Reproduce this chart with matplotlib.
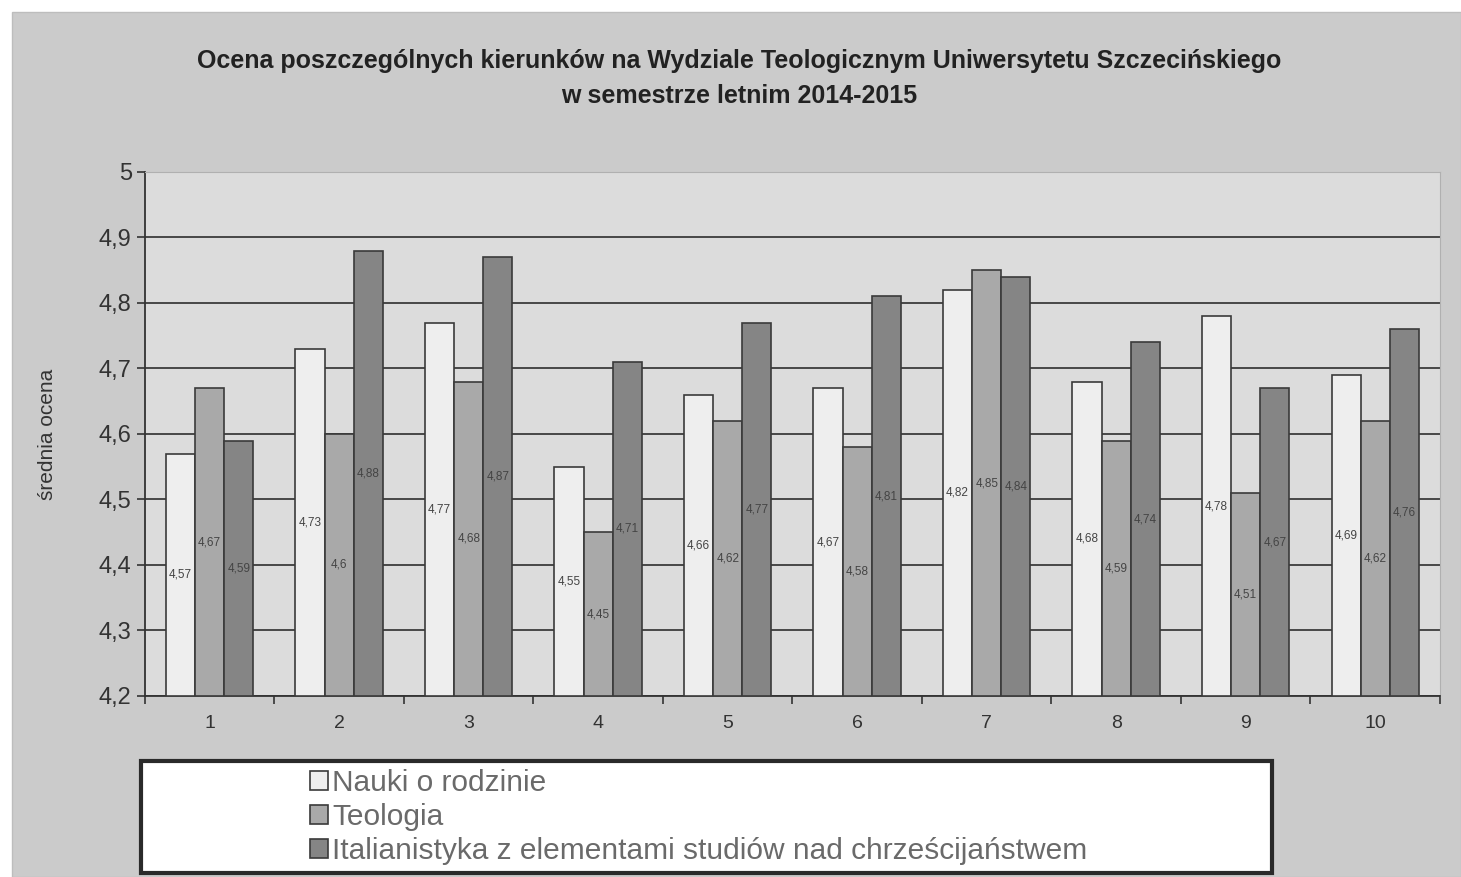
import matplotlib.pyplot as plt
import numpy
from matplotlib.patches import Rectangle

plt.rcParams['font.family'] = ['Liberation Sans', 'DejaVu Sans']

categories = ['1', '2', '3', '4', '5', '6', '7', '8', '9', '10']
nauki = [4.57, 4.73, 4.77, 4.55, 4.66, 4.67, 4.82, 4.68, 4.78, 4.69]
teologia = [4.67, 4.6, 4.68, 4.45, 4.62, 4.58, 4.85, 4.59, 4.51, 4.62]
italianistyka = [4.59, 4.88, 4.87, 4.71, 4.77, 4.81, 4.84, 4.74, 4.67, 4.76]
series_names = ['Nauki o rodzinie', 'Teologia',
                'Italianistyka z elementami studiów nad chrześcijaństwem']
y_ticks = [4.2, 4.3, 4.4, 4.5, 4.6, 4.7, 4.8, 4.9, 5.0]

fig = plt.figure(figsize=(14.61, 8.77), dpi=100)
fig.patch.set_facecolor('white')
# grey chart area (leaves thin white strip at top/left like the scan)
fig.add_artist(Rectangle((0.008, 0), 0.992, 0.986, transform=fig.transFigure,
                         facecolor='#cbcbcb', edgecolor='#bdbdbd', zorder=-10))

ax = fig.add_axes([0.0992, 0.2064, 0.8864, 0.5975])
ax.set_facecolor('#dcdcdc')

x = numpy.arange(len(categories))
width = 0.225
colors = ['#eeeeee', '#a9a9a9', '#858585']
data = [nauki, teologia, italianistyka]
for i, (vals, col, name) in enumerate(zip(data, colors, series_names)):
    pos = x + (i - 1) * width
    heights = numpy.array(vals) - 4.2
    ax.bar(pos, heights, width, bottom=4.2, color=col, edgecolor='#3a3a3a',
           linewidth=1.2, label=name, zorder=3)
    for p, v in zip(pos, vals):
        txt = ('%g' % v).replace('.', ',')
        ax.text(p, 4.2 + (v - 4.2) / 2, txt, ha='center', va='center',
                fontsize=8.5, color='#444444', zorder=4)

ax.set_xlim(-0.5, len(categories) - 0.5)
ax.set_ylim(4.2, 5.0)
ax.set_yticks(y_ticks)
ax.set_yticklabels([('%g' % t).replace('.', ',') for t in y_ticks],
                   fontsize=17, color='#333333')
ax.set_xticks(x)
ax.set_xticklabels(categories, fontsize=14, color='#333333')
ax.tick_params(axis='x', length=0, pad=14)
ax.tick_params(axis='y', length=6, width=1.2, color='#333333')
# separators between categories, below the axis
ax.set_xticks(numpy.arange(-0.5, len(categories), 1.0), minor=True)
ax.tick_params(axis='x', which='minor', length=6, width=1.2, color='#333333')

ax.grid(axis='y', color='#3c3c3c', linewidth=1.3, zorder=1)
ax.set_axisbelow(True)
for s in ['top', 'right']:
    ax.spines[s].set_color('#b0b0b0')
for s in ['left', 'bottom']:
    ax.spines[s].set_color('#333333')
    ax.spines[s].set_linewidth(1.3)

ax.set_ylabel('średnia ocena', fontsize=15, color='#333333', labelpad=30)

fig.text(0.506, 0.930, 'Ocena poszczególnych kierunków na Wydziale Teologicznym Uniwersytetu Szczecińskiego',
         ha='center', va='center', fontsize=18, fontweight='bold', color='#222222')
fig.text(0.506, 0.891, 'w semestrze letnim 2014-2015', ha='center', va='center',
         fontsize=18, fontweight='bold', color='#222222')

# legend box
fig.add_artist(Rectangle((0.0965, 0.004), 0.774, 0.128, transform=fig.transFigure,
                         facecolor='white', edgecolor='#2a2a2a', linewidth=3, zorder=5))
handles, labels = ax.get_legend_handles_labels()
leg = fig.legend(handles, labels, loc='center left', bbox_to_anchor=(0.212, 0.068),
                 frameon=False, fontsize=21.5, handlelength=0.6, handleheight=0.6,
                 handletextpad=0.15, labelspacing=0.2, borderpad=0, borderaxespad=0)
leg.set_zorder(6)
for t in leg.get_texts():
    t.set_color('#6a6a6a')

plt.savefig('out.png', dpi=100, facecolor=fig.get_facecolor())
